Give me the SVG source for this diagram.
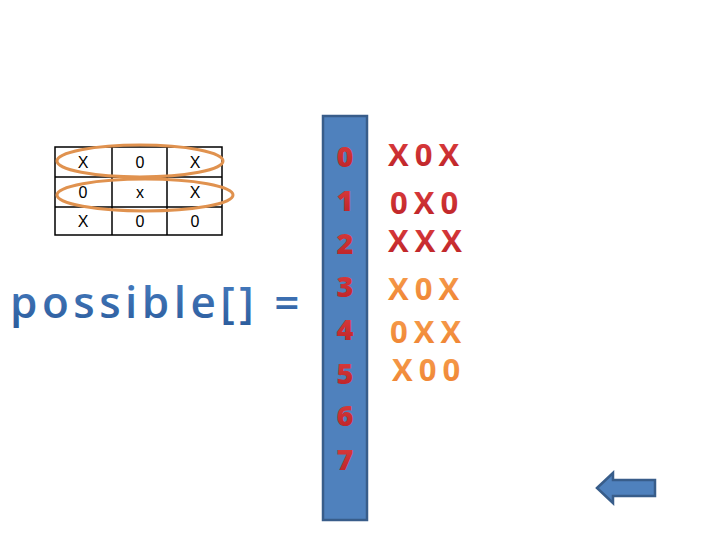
<svg xmlns="http://www.w3.org/2000/svg" width="720" height="540" viewBox="0 0 720 540">
<defs>
<linearGradient id="bg" x1="0" y1="0" x2="0" y2="1">
<stop offset="0" stop-color="#4A80C4"/>
<stop offset="1" stop-color="#2A5A9A"/>
</linearGradient>
<linearGradient id="rg" x1="0" y1="0" x2="0" y2="1">
<stop offset="0" stop-color="#E04040"/>
<stop offset="1" stop-color="#B82025"/>
</linearGradient>
<linearGradient id="og" x1="0" y1="0" x2="0" y2="1">
<stop offset="0" stop-color="#F7A050"/>
<stop offset="1" stop-color="#EE8030"/>
</linearGradient>
</defs>
<style>
.cell{font-family:"Liberation Sans",Arial,sans-serif;font-size:16px;fill:#000;text-anchor:middle}
.grid{stroke:#000;stroke-width:1.5;fill:none}
.ell{fill:none;stroke:#E0924F;stroke-width:3}
.num{font-family:"Open Sans","Liberation Sans",sans-serif;font-weight:800;font-size:29px;fill:url(#rg);text-anchor:middle}
.row{font-family:"Open Sans","Liberation Sans",sans-serif;font-weight:bold;font-size:31px;letter-spacing:6px}
.red{fill:url(#rg)}
.org{fill:url(#og)}
.shape{fill:#4F81BD;stroke:#385D8A;stroke-width:2.5}
</style>
<rect width="720" height="540" fill="#fff"/>
<g id="board">
<rect class="grid" x="55" y="147" width="167" height="88"/>
<line class="grid" x1="55" y1="177" x2="222" y2="177"/>
<line class="grid" x1="55" y1="207" x2="222" y2="207"/>
<line class="grid" x1="112" y1="147" x2="112" y2="235"/>
<line class="grid" x1="167" y1="147" x2="167" y2="235"/>
<text class="cell" x="83" y="168">X</text>
<text class="cell" x="140" y="168">0</text>
<text class="cell" x="195" y="168">X</text>
<text class="cell" x="83" y="198">0</text>
<text class="cell" x="140" y="198">x</text>
<text class="cell" x="195" y="198">X</text>
<text class="cell" x="83" y="227">X</text>
<text class="cell" x="140" y="227">0</text>
<text class="cell" x="195" y="227">0</text>
</g>
<g id="highlights">
<ellipse class="ell" cx="140" cy="161" rx="83" ry="16"/>
<ellipse class="ell" cx="145" cy="195" rx="88" ry="16"/>
</g>
<g id="label">
<text x="10" y="318" font-family="Open Sans, Liberation Sans, sans-serif" font-weight="600" font-size="44" letter-spacing="4.5" fill="url(#bg)">possible[] =</text>
</g>
<g id="array">
<rect class="shape" x="323" y="116" width="44" height="404"/>
<text class="num" x="345" y="167">0</text>
<text class="num" x="345" y="211">1</text>
<text class="num" x="345" y="254">2</text>
<text class="num" x="345" y="297">3</text>
<text class="num" x="345" y="340">4</text>
<text class="num" x="345" y="384">5</text>
<text class="num" x="345" y="426">6</text>
<text class="num" x="345" y="470">7</text>
</g>
<g id="values">
<text class="row red" x="388" y="166">X0X</text>
<text class="row red" x="390" y="214">0X0</text>
<text class="row red" x="388" y="252">XXX</text>
<text class="row org" x="388" y="300">X0X</text>
<text class="row org" x="390" y="343">0XX</text>
<text class="row org" x="392" y="381">X00</text>
</g>
<g id="connectors">
<path class="shape" d="M597,488 L613,473 L613,480 L655,480 L655,496 L613,496 L613,503 Z"/>
</g>
</svg>
